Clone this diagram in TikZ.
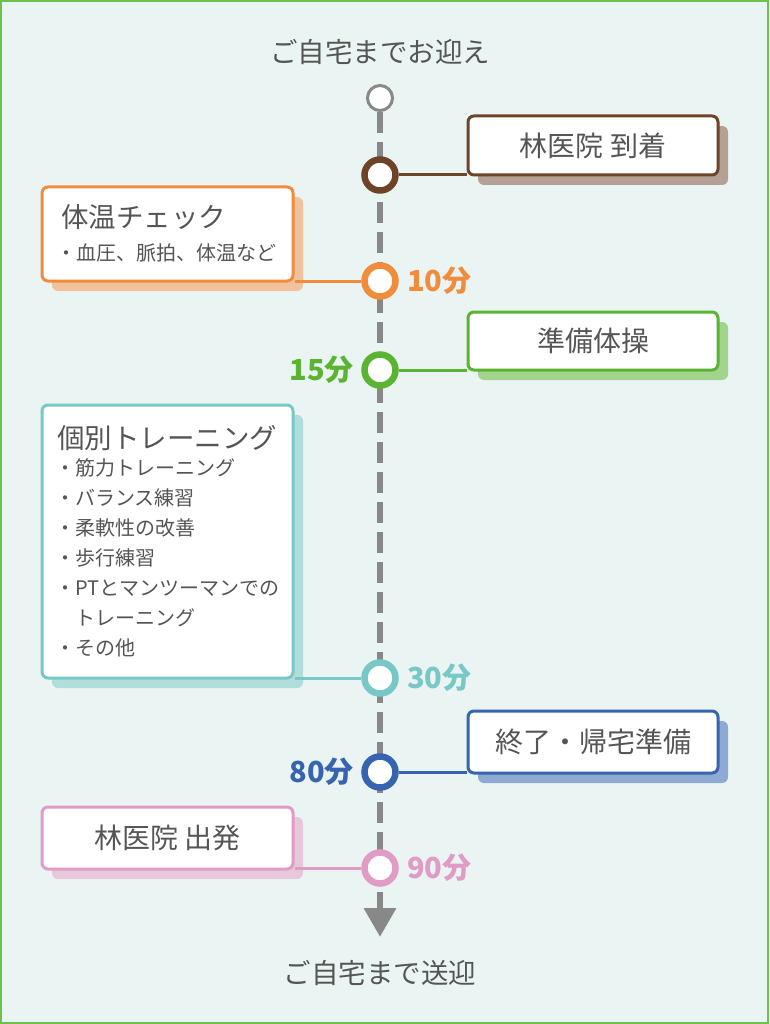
\documentclass[tikz,border=0pt]{standalone}
\usepackage{fontspec}
\setmainfont{Noto Sans CJK JP}
\usetikzlibrary{shapes.geometric,shadows}
\definecolor{bgC}{HTML}{EAF4F2}
\definecolor{frameC}{HTML}{6CC24A}
\definecolor{inkC}{HTML}{555555}
\definecolor{spineC}{HTML}{888888}
\definecolor{brownC}{HTML}{6E4429}
\definecolor{brownS}{HTML}{B4A094}
\definecolor{orangeC}{HTML}{F08C3C}
\definecolor{orangeS}{HTML}{F2C29C}
\definecolor{greenC}{HTML}{5AB432}
\definecolor{greenS}{HTML}{A2D48E}
\definecolor{tealC}{HTML}{78C8C8}
\definecolor{tealS}{HTML}{B0DEDB}
\definecolor{blueC}{HTML}{3764AF}
\definecolor{blueS}{HTML}{8EAAD2}
\definecolor{pinkC}{HTML}{E09CC6}
\definecolor{pinkS}{HTML}{E6C8DA}
\begin{document}
\begin{tikzpicture}[x=1pt,y=-1pt,
    evbox/.style 2 args={draw=#1, line width=3pt, fill=white, rounded corners=6pt,
      minimum width=250pt, inner sep=0pt, text=inkC, font=\fontsize{28pt}{32pt}\selectfont,
      drop shadow={fill=#2, opacity=1, shadow xshift=10pt, shadow yshift=-10pt}},
    stop/.style={circle, draw=#1, line width=6.5pt, fill=white, minimum size=31pt, inner sep=0pt},
    link/.style={draw=#1, line width=3pt},
    spine/.style={draw=spineC, line width=6pt, dash pattern=on 21pt off 9pt},
    head/.style={anchor=west, inner sep=0pt, text=inkC, font=\fontsize{27.5pt}{30pt}\selectfont},
    item/.style={anchor=west, inner sep=0pt, text=inkC, font=\fontsize{20pt}{24pt}\selectfont},
    time/.style={inner sep=0pt, text=#1, font=\fontsize{29pt}{32pt}\selectfont\bfseries},
    place/.style={inner sep=0pt, text=inkC, font=\fontsize{27.5pt}{30pt}\selectfont}]
        % Backdrop
        \useasboundingbox (0,0) rectangle (769,1024);
        \draw[draw=frameC, line width=2pt, fill=bgC] (1,1) rectangle (768,1023);
        % Timeline
        \node[place] (home1) at (380,52) {ご自宅までお迎え};
        \node[place] (home2) at (380,973) {ご自宅まで送迎};
        \node[circle, draw=spineC, line width=3pt, fill=white, minimum size=25pt, inner sep=0pt] (s0) at (380,98) {};
        \node[regular polygon, regular polygon sides=3, shape border rotate=180, fill=spineC,
          minimum size=38pt, inner sep=0pt] (tip) at (380,917.5) {};
        \draw[spine] (s0) -- (tip);
        % Stops
        \node[stop=brownC] (s1) at (380,175) {};
        \node[stop=orangeC] (s2) at (380,281) {};
        \node[stop=greenC] (s3) at (380,370) {};
        \node[stop=tealC] (s4) at (380,678) {};
        \node[stop=blueC] (s5) at (380,772) {};
        \node[stop=pinkC] (s6) at (380,868) {};
        % Boxes
        \node[evbox={brownC}{brownS}, minimum height=59pt] (b1) at (593,145.5) {林医院 到着};
        \node[evbox={orangeC}{orangeS}, minimum width=251pt, minimum height=94pt] (b2) at (167.5,234) {};
        \node[evbox={greenC}{greenS}, minimum height=58pt] (b3) at (593,341) {準備体操};
        \node[evbox={tealC}{tealS}, minimum width=251pt, minimum height=273pt] (b4) at (167.5,541.5) {};
        \node[evbox={blueC}{blueS}, minimum height=62pt] (b5) at (593,742) {終了・帰宅準備};
        \node[evbox={pinkC}{pinkS}, minimum width=251pt, minimum height=62pt] (b6) at (167.5,838) {林医院 出発};
        % Box texts
        \node[head] (h2) at (61,217) {体温チェック};
        \node[item] (i21) at (56,253) {・血圧、脈拍、体温など};
        \node[head] (h4) at (57,438) {個別トレーニング};
        \node[item] (i41) at (55,468) {・筋力トレーニング};
        \node[item] (i42) at (55,498) {・バランス練習};
        \node[item] (i43) at (55,528) {・柔軟性の改善};
        \node[item] (i44) at (55,558) {・歩行練習};
        \node[item] (i45) at (55,588) {・PTとマンツーマンでの};
        \node[item] (i46) at (75,618) {トレーニング};
        \node[item] (i47) at (55,648) {・その他};
        % Connectors
        \draw[link=brownC] (s1) -- (s1 -| b1.west);
        \draw[link=orangeC] (s2) -- (s2 -| b2.east);
        \draw[link=greenC] (s3) -- (s3 -| b3.west);
        \draw[link=tealC] (s4) -- (s4 -| b4.east);
        \draw[link=blueC] (s5) -- (s5 -| b5.west);
        \draw[link=pinkC] (s6) -- (s6 -| b6.east);
        % Times
        \node[time=orangeC, anchor=west] (t2) at (407,281) {10分};
        \node[time=greenC, anchor=east] (t3) at (354,370) {15分};
        \node[time=tealC, anchor=west] (t4) at (407,678) {30分};
        \node[time=blueC, anchor=east] (t5) at (354,772) {80分};
        \node[time=pinkC, anchor=west] (t6) at (407,868) {90分};

    \end{tikzpicture}
\end{document}
